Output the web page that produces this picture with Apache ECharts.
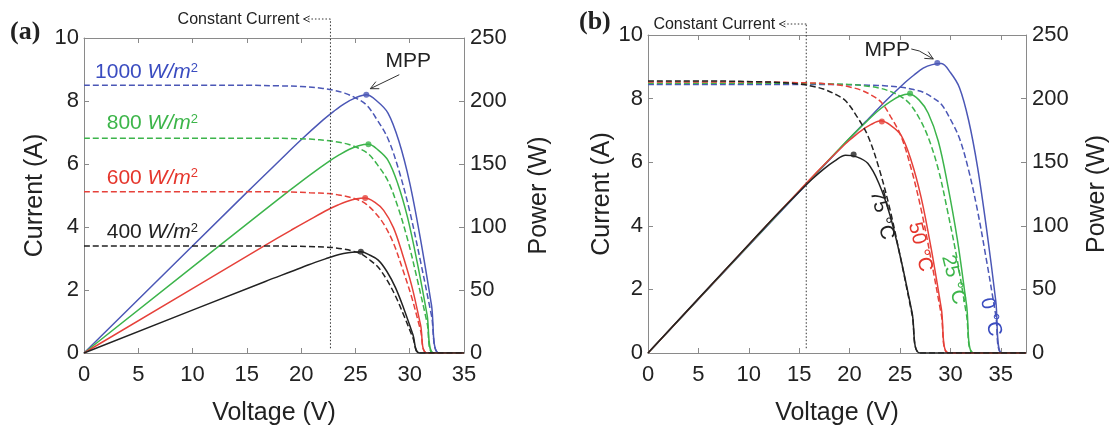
<!DOCTYPE html>
<html>
<head>
<meta charset="utf-8">
<title>PV curves</title>
<script src="https://cdn.jsdelivr.net/npm/echarts@6/dist/echarts.min.js"></script>
<style>
html, body { margin: 0; padding: 0; background: #fff; }
#main { width: 1119px; height: 432px; }
</style>
</head>
<body>
<div id="main"></div>
<script>
// ---- panel (a): irradiance ----
var irrNames = ['1000', '800', '600', '400'];
var irrColors = ['#4b57b6', '#3cb44b', '#e6413a', '#222222'];
var irrTextColors = ['#3a4cc0', '#3db54a', '#e5362c', '#222222'];
var irrV = [
	[0, 15.0, 18.0, 20.0, 22.0, 23.0, 24.0, 25.0, 26.0, 27.0, 28.0, 29.0, 30.0, 31.0, 32.0, 32.7, 35],
	[0, 16.3, 19.0, 20.8, 22.6, 23.5, 24.4, 25.3, 26.2, 27.1, 28.0, 28.9, 29.8, 30.7, 31.6, 32.2, 35],
	[0, 16.6, 19.1, 20.8, 22.5, 23.4, 24.2, 25.1, 25.9, 26.8, 27.6, 28.5, 29.3, 30.2, 31.0, 31.6, 35],
	[0, 16.7, 19.1, 20.7, 22.3, 23.1, 23.9, 24.7, 25.5, 26.3, 27.1, 27.9, 28.7, 29.5, 30.3, 30.9, 35]
];
var irrI = [
	[8.50, 8.50, 8.48, 8.46, 8.40, 8.34, 8.25, 8.10, 7.88, 7.40, 6.80, 5.80, 4.50, 2.90, 1.20, 0, 0],
	[6.82, 6.82, 6.81, 6.79, 6.74, 6.69, 6.62, 6.50, 6.32, 5.94, 5.46, 4.65, 3.61, 2.33, 0.96, 0, 0],
	[5.12, 5.12, 5.11, 5.09, 5.06, 5.02, 4.97, 4.88, 4.75, 4.46, 4.10, 3.49, 2.71, 1.75, 0.72, 0, 0],
	[3.40, 3.40, 3.39, 3.38, 3.36, 3.34, 3.30, 3.24, 3.15, 2.96, 2.72, 2.32, 1.80, 1.16, 0.48, 0, 0]
];
var irrP = [
	[0, 127.5, 152.6, 169.2, 184.8, 191.8, 198.0, 202.5, 204.9, 199.8, 190.4, 168.2, 135.0, 89.9, 38.4, 0, 0],
	[0, 111.2, 129.4, 141.2, 152.3, 157.2, 161.5, 164.5, 165.6, 161.0, 152.9, 134.4, 107.6, 71.5, 30.3, 0, 0],
	[0, 85.0, 97.6, 105.9, 113.9, 117.5, 120.3, 122.5, 123.0, 119.5, 113.2, 99.5, 79.4, 52.9, 22.3, 0, 0],
	[0, 56.8, 64.7, 70.0, 74.9, 77.2, 78.9, 80.0, 80.3, 77.8, 73.7, 64.7, 51.7, 34.2, 14.5, 0, 0]
];
var irrMppV = [26.0, 26.2, 25.9, 25.5];
var irrMppP = [205, 165.6, 123, 80.3];
var irrLabelAt = [[10.5, 8.92], [10.5, 7.30], [10.5, 5.56], [10.5, 3.84]];
var irrConstV = 22.7;

// ---- panel (b): temperature ----
var tempNames = ['0', '25', '50', '75'];
var tempColors = ['#4b57b6', '#3cb44b', '#e6413a', '#222222'];
var tempTextColors = ['#3a4cc0', '#3db54a', '#e5362c', '#222222'];
var tempV = [
	[0, 19.2, 21.9, 23.7, 25.5, 26.4, 27.3, 28.2, 29.1, 30.0, 30.9, 31.8, 32.7, 33.6, 34.5, 35.1, 37.5],
	[0, 15.5, 18.3, 20.2, 22.1, 23.1, 24.0, 25.0, 25.9, 26.9, 27.8, 28.8, 29.7, 30.7, 31.6, 32.3, 37.5],
	[0, 12.1, 15.1, 17.1, 19.1, 20.1, 21.1, 22.1, 23.1, 24.1, 25.1, 26.1, 27.1, 28.1, 29.1, 29.8, 37.5],
	[0, 7.5, 10.8, 13.0, 15.2, 16.3, 17.4, 18.5, 19.6, 20.7, 21.8, 22.9, 24.0, 25.1, 26.2, 27.0, 37.5]
];
var tempI = [
	[8.44, 8.44, 8.42, 8.40, 8.34, 8.28, 8.20, 8.04, 7.82, 7.35, 6.75, 5.76, 4.46, 2.88, 1.19, 0, 0],
	[8.48, 8.48, 8.46, 8.44, 8.38, 8.32, 8.23, 8.08, 7.86, 7.39, 6.78, 5.78, 4.49, 2.89, 1.20, 0, 0],
	[8.52, 8.52, 8.50, 8.48, 8.42, 8.36, 8.27, 8.12, 7.90, 7.42, 6.82, 5.81, 4.51, 2.91, 1.20, 0, 0],
	[8.55, 8.55, 8.53, 8.51, 8.45, 8.39, 8.30, 8.15, 7.93, 7.45, 6.84, 5.83, 4.52, 2.92, 1.21, 0, 0]
];
var tempP = [
	[0, 162.0, 184.4, 199.1, 212.7, 218.6, 223.9, 226.7, 227.6, 220.5, 208.6, 183.2, 145.8, 96.8, 41.1, 0, 0],
	[0, 131.4, 154.8, 170.5, 185.2, 192.2, 197.5, 202.0, 203.6, 198.8, 188.5, 166.5, 133.4, 88.7, 37.9, 0, 0],
	[0, 103.1, 128.4, 145.0, 160.8, 168.0, 174.5, 179.5, 182.5, 178.8, 171.2, 151.6, 122.2, 81.8, 34.9, 0, 0],
	[0, 64.1, 92.1, 110.6, 128.4, 136.8, 144.4, 150.8, 155.4, 154.2, 149.1, 133.5, 108.5, 73.3, 31.7, 0, 0]
];
var tempMppV = [28.7, 26.0, 23.2, 20.4];
var tempMppP = [228, 204, 182, 156];
var tempLabelAt = [[34.0, 1.13], [30.3, 2.30], [27.0, 3.33], [23.2, 4.34]];
var tempConstV = 15.7;

var currentTicks = [0, 10, 2];   // min, max, step
var powerTicks = [0, 250, 50];

var FONT = 'Liberation Sans, Arial, Helvetica, sans-serif';
var AXC = '#8a8a8a';
var TXT = '#222';

function xAx(grid, max, pos) {
	var top = pos === 'top';
	return {
		type: 'value', gridIndex: grid, position: pos, min: 0, max: max, interval: 5,
		axisLine: { show: true, onZero: false, lineStyle: { color: AXC, width: 1 } },
		axisTick: { show: true, inside: true, length: 5, lineStyle: { color: AXC } },
		axisLabel: { show: !top, fontSize: 22, color: TXT, fontFamily: FONT, margin: 11, showMaxLabel: max === 35 },
		splitLine: { show: false },
		name: top ? '' : 'Voltage (V)', nameLocation: 'middle', nameGap: 48,
		nameTextStyle: { fontSize: 25, color: TXT, fontFamily: FONT }
	};
}
function yAx(grid, t, pos, name, gap) {
	return {
		type: 'value', gridIndex: grid, position: pos, min: t[0], max: t[1], interval: t[2],
		axisLine: { show: true, onZero: false, lineStyle: { color: AXC, width: 1 } },
		axisTick: { show: true, inside: true, length: 5, lineStyle: { color: AXC } },
		axisLabel: { fontSize: 22, color: TXT, fontFamily: FONT, margin: pos === 'left' ? 5 : 6 },
		splitLine: { show: false },
		name: name, nameLocation: 'middle', nameGap: gap, nameRotate: 90,
		nameTextStyle: { fontSize: 25, color: TXT, fontFamily: FONT }
	};
}

function zip(a, b) {
	return a.map(function (v, i) { return [v, b[i]]; });
}

var series = [];
function addPanel(xi, yi, yp, V, I, P, colors, mppV, mppP) {
	// black is drawn last so it sits on top, like the original
	for (var k = 0; k < V.length; k++) {
		series.push({
			type: 'line', xAxisIndex: xi, yAxisIndex: yi, data: zip(V[k], I[k]),
			smooth: 0.35, symbol: 'none', silent: true, z: 2 + k,
			lineStyle: { color: colors[k], width: 1.5, type: [6, 3] }
		});
		series.push({
			type: 'line', xAxisIndex: xi, yAxisIndex: yp, data: zip(V[k], P[k]),
			smooth: 0.35, symbol: 'none', silent: true, z: 2 + k,
			lineStyle: { color: colors[k], width: 1.5 }
		});
	}
	series.push({
		type: 'scatter', xAxisIndex: xi, yAxisIndex: yp, symbolSize: 6, z: 10, silent: true,
		data: mppV.map(function (v, i) {
			return { value: [v, mppP[i]], itemStyle: { color: colors[i] } };
		})
	});
}
addPanel(0, 0, 1, irrV, irrI, irrP, irrColors, irrMppV, irrMppP);
addPanel(2, 2, 3, tempV, tempI, tempP, tempColors, tempMppV, tempMppP);

var option = {
	animation: false,
	backgroundColor: '#fff',
	grid: [
		{ left: 84, top: 38, width: 380, height: 315 },
		{ left: 648, top: 35, width: 378, height: 318 }
	],
	xAxis: [xAx(0, 35, 'bottom'), xAx(0, 35, 'top'), xAx(1, 37.5, 'bottom'), xAx(1, 37.5, 'top')],
	yAxis: [
		yAx(0, currentTicks, 'left', 'Current (A)', 36),
		yAx(0, powerTicks, 'right', 'Power (W)', 63),
		yAx(1, currentTicks, 'left', 'Current (A)', 33),
		yAx(1, powerTicks, 'right', 'Power (W)', 59)
	],
	series: series
};

var chart = echarts.init(document.getElementById('main'));
chart.setOption(option);

// ---- annotations, placed from data coordinates ----
function px(xi, yi, x, y) {
	return [chart.convertToPixel({ xAxisIndex: xi }, x), chart.convertToPixel({ yAxisIndex: yi }, y)];
}
function arrowHead(tip, from, len) {
	var a = Math.atan2(from[1] - tip[1], from[0] - tip[0]);
	var s = 0.45;
	return [
		[tip[0] + len * Math.cos(a + s), tip[1] + len * Math.sin(a + s)],
		tip,
		[tip[0] + len * Math.cos(a - s), tip[1] + len * Math.sin(a - s)]
	];
}
var g = [];
function line(points, color, dash, w) {
	g.push({ type: 'polyline', silent: true, z: 20, shape: { points: points },
		style: { stroke: color, lineWidth: w || 1, fill: null, lineDash: dash || null } });
}
function text(x, y, str, opt) {
	var st = { text: str, x: 0, y: 0, fill: opt.color || TXT, font: opt.font,
		align: opt.align || 'center', verticalAlign: 'middle' };
	if (opt.rich) st.rich = opt.rich;
	g.push({ type: 'text', silent: true, z: 20, x: x, y: y, rotation: opt.rotation || 0, style: st });
}

function constCurrent(xi, yi, v, yTop) {
	var b = px(xi, yi, v, 0.15);
	line([[b[0], b[1]], [b[0], yTop]], '#333', [1.5, 2]);
	line([[b[0], yTop], [b[0] - 25, yTop]], '#333', [1.5, 2]);
	line(arrowHead([b[0] - 27, yTop], [b[0], yTop], 7), '#333');
	text(b[0] - 31, yTop + 1, 'Constant Current', { font: '16px ' + FONT, align: 'right' });
}
constCurrent(0, 0, irrConstV, 19);
constCurrent(2, 2, tempConstV, 24);

// MPP labels
var ma = px(0, 1, irrMppV[0], irrMppP[0]);
text(ma[0] + 42, ma[1] - 33, 'MPP', { font: '21px ' + FONT });
line([[ma[0] + 33, ma[1] - 20], [ma[0] + 4, ma[1] - 6]], '#333');
line(arrowHead([ma[0] + 4, ma[1] - 6], [ma[0] + 33, ma[1] - 20], 9), '#333');

var mb = px(2, 3, tempMppV[0], tempMppP[0]);
text(mb[0] - 50, mb[1] - 13, 'MPP', { font: '21px ' + FONT });
line([[mb[0] - 26, mb[1] - 14], [mb[0] - 18, mb[1] - 12], [mb[0] - 4, mb[1] - 4]], '#333');
line(arrowHead([mb[0] - 4, mb[1] - 4], [mb[0] - 18, mb[1] - 12], 9), '#333');

// irradiance labels
for (var k = 0; k < irrNames.length; k++) {
	var p = px(0, 0, irrLabelAt[k][0], irrLabelAt[k][1]);
	text(p[0], p[1], '{n|' + irrNames[k] + ' }{i|W/m}{s|2}', {
		align: 'right', color: irrTextColors[k],
		font: '21px ' + FONT,
		rich: {
			n: { fontSize: 21, fontFamily: FONT, fill: irrTextColors[k] },
			i: { fontSize: 21, fontFamily: FONT, fontStyle: 'italic', fill: irrTextColors[k] },
			s: { fontSize: 13, fontFamily: FONT, fill: irrTextColors[k], verticalAlign: 'top' }
		}
	});
}

// temperature labels, rotated along the curves
for (var k = 0; k < tempNames.length; k++) {
	var q = px(2, 2, tempLabelAt[k][0], tempLabelAt[k][1]);
	text(q[0], q[1], tempNames[k] + ' \u00b0C', {
		font: '20px ' + FONT, color: tempTextColors[k], rotation: -1.33
	});
}

// panel letters
text(10, 32, '(a)', { font: 'bold 26px Liberation Serif, Times New Roman, serif', align: 'left' });
text(579, 22, '(b)', { font: 'bold 26px Liberation Serif, Times New Roman, serif', align: 'left' });

chart.setOption({ graphic: g });
</script>
</body>
</html>
